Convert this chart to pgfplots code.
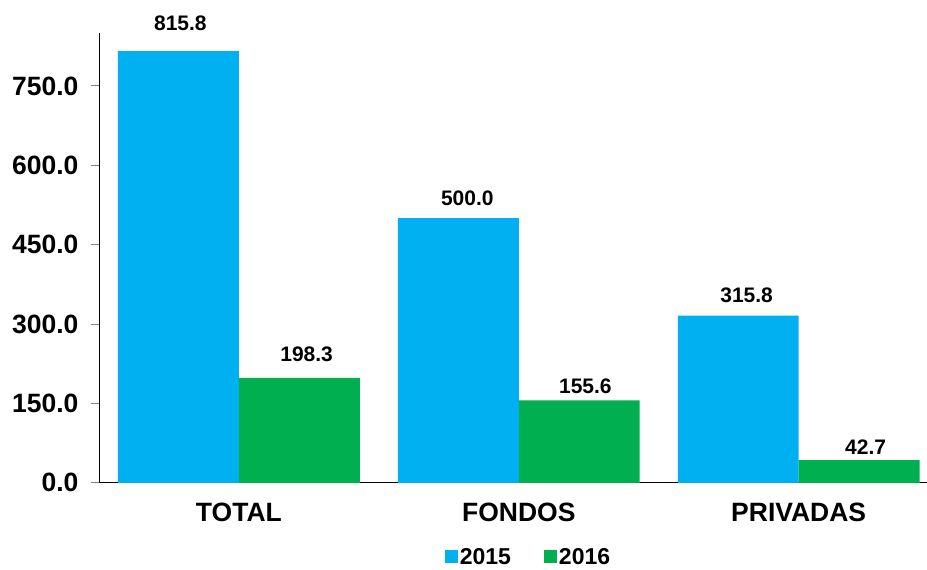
\documentclass[border=0pt]{standalone}
\usepackage{pgfplots}
\pgfplotsset{compat=1.18}
\usepackage{fontspec}
\setmainfont{Liberation Sans}
\definecolor{cblue}{HTML}{00B0F0}
\definecolor{cgreen}{HTML}{00B050}
\begin{document}
\begin{tikzpicture}
\begin{axis}[
  scale only axis,
  width=828pt, height=450pt,
  xmin=-0.5, xmax=2.457,
  ymin=0, ymax=850,
  clip=false,
  ybar=0pt,
  bar width=0.432,
  axis x line*=bottom,
  axis y line*=left,
  axis line style={black, line width=0.8pt},
  xtick={0,1,2},
  xticklabels={TOTAL,FONDOS,PRIVADAS},
  x tick style={draw=none},
  extra x ticks={-0.5,0.5,1.5},
  extra x tick labels={},
  extra x tick style={tick style={draw=gray, line width=0.8pt}, major tick length=8pt, tick align=outside},
  ytick={0,150,300,450,600,750},
  y tick style={draw=gray, line width=0.8pt},
  major tick length=8pt,
  tick align=outside,
  yticklabel style={font=\fontsize{26.5}{26.5}\selectfont\bfseries, xshift=-9pt},
  xticklabel style={font=\fontsize{26.5}{26.5}\selectfont\bfseries, yshift=-9pt},
  /pgf/number format/.cd, fixed, fixed zerofill, precision=1, assume math mode=true,
  /pgfplots/.cd,
  legend columns=2,
  legend style={draw=none, at={(0.519,-0.1644)}, anchor=center,
    font=\fontsize{23}{23}\selectfont\bfseries,
    /tikz/every even column/.append style={column sep=31pt},
    nodes={inner sep=2pt}},
  legend image code/.code={\fill[#1] (0pt,-6.5pt) rectangle (13pt,6.5pt);},
]
\addplot[fill=cblue, draw=none] coordinates {(0,815.8) (1,500.0) (2,315.8)};
\addplot[fill=cgreen, draw=none] coordinates {(0,198.3) (1,155.6) (2,42.7)};
\legend{2015,2016}
\begin{scope}[every node/.style={font=\fontsize{21}{21}\selectfont\bfseries, anchor=base, inner sep=0pt}]
\node at (axis cs:-0.209,853.9) {815.8};
\node at (axis cs:0.242,228.4) {198.3};
\node at (axis cs:0.816,524.8) {500.0};
\node at (axis cs:1.238,168.0) {155.6};
\node at (axis cs:1.814,339.8) {315.8};
\node at (axis cs:2.239,52.9) {42.7};
\end{scope}
\end{axis}
\path[use as bounding box] ([shift={(-99pt,-84pt)}]current axis.south west) rectangle ([shift={(0pt,33pt)}]current axis.north east);
\end{tikzpicture}
\end{document}
